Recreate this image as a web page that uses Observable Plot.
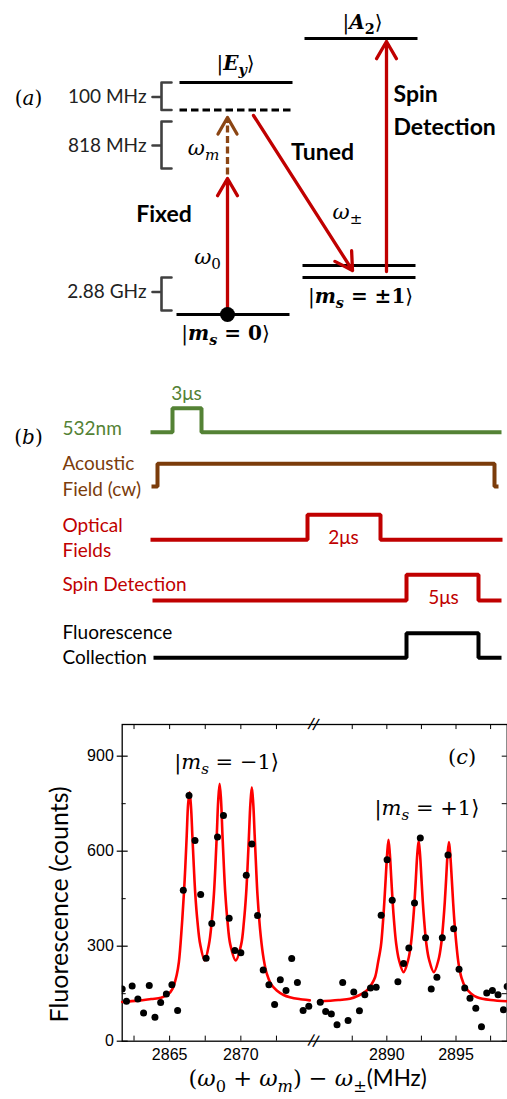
<!DOCTYPE html>
<html><head><meta charset="utf-8">
<script src="https://cdn.jsdelivr.net/npm/d3@7"></script>
<script src="https://cdn.jsdelivr.net/npm/@observablehq/plot@0.6"></script>
<style>
html,body{margin:0;padding:0;background:#fff;}
#chart{position:relative;width:507px;height:1099px;overflow:hidden;background:#fff;}
#chart svg{position:absolute;left:0;max-width:none;}
</style></head><body><div id="chart"></div>
<script>
// ================= DATA =================
// Panel (a): energy-level schematic (diagram units)
const levelState = ["Ey", "virtual", "ms0", "ms+1", "ms-1", "A2"];
const levelLeft  = [179, 179, 176, 302, 302, 304];
const levelRight = [292, 292, 289, 415, 415, 417];
const levelY     = [82, 109.5, 314, 265, 277, 38];
const levelDash  = [false, true, false, false, false, false];

const braceLabel = ["100 MHz", "818 MHz", "2.88 GHz"];
const braceTop   = [82, 121, 277];
const braceMid   = [96.5, 145, 291.5];
const braceBot   = [109.5, 168, 310];

const arrowName  = ["ω0", "Tuned", "Spin Detection"];
const arrowFromX = [227, 253, 386];
const arrowFromY = [314, 115, 271];
const arrowToX   = [227, 352, 386];
const arrowToY   = [178, 270, 41];
const acousticArrow = [227, 174, 227, 117]; // x1, y1, x2, y2
const groundDot = [227, 314];

const stateText = ["|{bi:E}{bis:y}⟩", "|{bi:A}{bs:2}⟩", "|{bi:m}{bis:s}{b: = 0}⟩", "|{bi:m}{bis:s}{b: = ±1}⟩"];
const stateX = [235, 362, 225, 360];
const stateY = [63, 22, 333, 296];
const freqText = ["{i:ω}{is:m}", "{i:ω}{s:0}", "{i:ω}{s:±}"];
const freqX = [203, 207, 347];
const freqY = [148, 257, 212];
const centerBold = ["Fixed", "Tuned"];
const centerBoldX = [163.5, 322];
const centerBoldY = [214, 152];
const sideBold = ["Spin", "Detection"];
const sideBoldX = [393, 393];
const sideBoldY = [94, 127];
const panelText = ["({i:a})", "({i:b})"];
const panelY = [98, 437];

// Panel (b): pulse sequence
const traceName  = ["532nm", "Acoustic", "Optical", "Spin Detection", "Fluorescence"];
const traceColor = ["#548235", "#7B3C0B", "#C00000", "#C00000", "#000000"];
const traceStart = [150, 151, 150, 152, 153];
const traceRise  = [172, 157, 307, 406, 406];
const traceFall  = [201, 494, 380, 478, 478];
const traceEnd   = [501, 498, 502, 501, 501];
const traceLow   = [431.7, 486, 539.3, 600, 657.3];
const traceHigh  = [407.7, 463.3, 514.3, 574.3, 632.7];
const seqLabel   = ["532nm", "Acoustic", "Field (cw)", "Optical", "Fields", "Spin Detection", "Fluorescence", "Collection"];
const seqColor   = ["#548235", "#7B3C0B", "#7B3C0B", "#C00000", "#C00000", "#C00000", "#000000", "#000000"];
const seqY       = [428, 463, 489, 525, 550, 584, 632, 657];
const durText  = ["3μs", "2μs", "5μs"];
const durX     = [186, 343, 443];
const durY     = [393, 537, 597];
const durColor = ["#548235", "#C00000", "#C00000"];

// Panel (c): fluorescence spectrum (MHz, counts)
const dataX = [2861.67, 2861.97, 2862.37, 2862.77, 2863.17, 2863.57, 2863.97, 2864.37, 2864.77, 2865.16, 2865.56, 2865.96, 2866.36, 2866.78, 2867.18, 2867.56, 2867.96, 2868.36, 2868.78, 2869.18, 2869.58, 2870.0, 2870.38, 2870.77, 2871.17, 2871.57, 2871.97, 2872.37, 2872.77, 2873.17, 2873.57, 2873.97, 2874.37, 2874.77,
  2885.19, 2885.58, 2885.99, 2886.40, 2886.81, 2887.20, 2887.61, 2888.02, 2888.41, 2888.82, 2889.23, 2889.59, 2890.02, 2890.39, 2890.80, 2891.21, 2891.59, 2892.00, 2892.42, 2892.80, 2893.21, 2893.62, 2894.01, 2894.42, 2894.83, 2895.22, 2895.63, 2896.01, 2896.43, 2896.84, 2897.22, 2897.63, 2898.04, 2898.43, 2898.70];
const dataY = [165, 126, 174, 133, 89, 176, 76, 122, 149, 178, 97, 477, 776, 634, 463, 262, 372, 645, 713, 388, 286, 279, 524, 623, 397, 225, 178, 116, 194, 160, 261, 185, 97, 110,
  123, 94, 86, 52, 185, 65, 155, 96, 147, 168, 170, 398, 573, 445, 188, 245, 294, 436, 642, 327, 165, 202, 327, 588, 355, 227, 168, 136, 104, 46, 152, 160, 147, 99, 173];

const fitLeftX = [2861.67, 2862.8, 2863.7, 2864.4, 2864.9, 2865.2, 2865.5, 2865.65, 2865.85, 2866.0, 2866.1, 2866.2, 2866.3, 2866.4, 2866.5, 2866.6, 2866.7, 2866.8, 2866.95, 2867.15, 2867.46, 2867.76, 2867.96, 2868.11, 2868.21, 2868.31, 2868.41, 2868.51, 2868.61, 2868.71, 2868.81, 2868.91, 2869.06, 2869.26, 2869.64, 2870.02, 2870.22, 2870.37, 2870.47, 2870.57, 2870.67, 2870.77, 2870.87, 2870.97, 2871.07, 2871.17, 2871.4, 2871.6, 2871.82, 2872.1, 2872.52, 2873.0, 2873.44, 2874.1, 2874.84];
const fitLeftY = [124, 128, 133, 137, 148, 165, 210, 250, 360, 465, 550, 650, 750, 786, 740, 645, 550, 465, 380, 305, 255, 305, 380, 465, 550, 650, 760, 813, 760, 650, 550, 465, 380, 305, 255, 305, 380, 465, 550, 650, 750, 802, 750, 650, 550, 460, 330, 260, 213, 182, 160, 146, 139, 133, 129];
const fitRightX = [2885.03, 2886.5, 2887.34, 2888.0, 2888.55, 2888.9, 2889.15, 2889.37, 2889.57, 2889.72, 2889.82, 2889.92, 2890.02, 2890.12, 2890.22, 2890.32, 2890.42, 2890.52, 2890.67, 2890.87, 2891.21, 2891.55, 2891.75, 2891.90, 2892.00, 2892.10, 2892.20, 2892.30, 2892.40, 2892.50, 2892.60, 2892.70, 2892.85, 2893.05, 2893.40, 2893.74, 2893.94, 2894.09, 2894.19, 2894.29, 2894.39, 2894.49, 2894.59, 2894.69, 2894.79, 2894.89, 2895.04, 2895.19, 2895.4, 2895.67, 2896.1, 2896.52, 2897.5, 2898.7];
const fitRightY = [125, 130, 134, 145, 160, 180, 202, 250, 300, 375, 440, 515, 590, 636, 590, 515, 440, 380, 310, 258, 218, 258, 310, 380, 440, 515, 590, 632, 590, 515, 440, 380, 310, 258, 218, 258, 310, 380, 440, 515, 590, 629, 585, 515, 440, 375, 300, 244, 200, 171, 150, 139, 130, 126];

const xBreakDomain = [2861.67, 2875.1, 2884.7, 2898.7];
const xMajor = [2865, 2870, 2890, 2895];
const xMinor = [2862.5, 2867.5, 2872.5, 2887.5, 2892.5, 2897.5];
const yMajor = [0, 300, 600, 900];
const yMinor = [150, 450, 750];
const peakText = ["|{i:m}{is:s} = −1⟩", "|{i:m}{is:s} = +1⟩", "({i:c})"];
const peakX = [2869.0, 2892.9, 2895.44];
const peakY = [880, 735, 896];

// ================= RENDER =================
const SANS = "Lato, 'Open Sans', sans-serif";
const SERIF = "'DejaVu Serif', serif";
const ARIAL = "'Liberation Sans', Arial, sans-serif";
const RED = "#C00000", BROWN = "#8B4513", GRAY = "#404040";
const SVGNS = "http://www.w3.org/2000/svg";

function richify(root) {
  for (const t of root.querySelectorAll("text")) {
    const s = t.textContent;
    if (!s.includes("{")) continue;
    const fs = parseFloat(getComputedStyle(t).fontSize) || 16;
    t.textContent = "";
    let shift = 0;
    const re = /\{([a-z]+):([^}]*)\}|([^{]+)/g;
    let m;
    while ((m = re.exec(s))) {
      const ts = document.createElementNS(SVGNS, "tspan");
      const flags = m[1] || "";
      ts.textContent = m[1] ? m[2] : m[3];
      if (flags.includes("i")) ts.setAttribute("font-style", "italic");
      if (flags.includes("b")) ts.setAttribute("font-weight", "bold");
      if (flags.includes("u")) ts.setAttribute("font-family", SANS);
      const sub = flags.includes("s");
      if (sub) ts.setAttribute("font-size", (fs * 0.72).toFixed(2) + "px");
      const want = sub ? fs * 0.25 : 0;
      if (want !== shift) { ts.setAttribute("dy", (want - shift).toFixed(2)); shift = want; }
      t.appendChild(ts);
    }
  }
}

const levels = levelState.map((s, i) => ({s, x1: levelLeft[i], x2: levelRight[i], y: levelY[i], dash: levelDash[i]}));
const braceRows = braceLabel.flatMap((b, i) => [
  [171, braceTop[i]], [161, braceTop[i]], [161, braceMid[i]], [152, braceMid[i]],
  [161, braceMid[i]], [161, braceBot[i]], [171, braceBot[i]]
].map(([x, y]) => ({b, x, y})));
const arrows = arrowName.map((n, i) => ({n, x1: arrowFromX[i], y1: arrowFromY[i], x2: arrowToX[i], y2: arrowToY[i]}));
const traceRows = traceName.flatMap((name, i) => [
  [traceStart[i], traceLow[i]], [traceRise[i], traceLow[i]], [traceRise[i], traceHigh[i]],
  [traceFall[i], traceHigh[i]], [traceFall[i], traceLow[i]], [traceEnd[i], traceLow[i]]
].map(([x, y]) => ({name, x, y, color: traceColor[i]})));

const diag = Plot.plot({
  width: 507, height: 680, margin: 0,
  x: {domain: [0, 507], range: [0, 507], axis: null},
  y: {domain: [0, 680], range: [0, 680], axis: null},
  color: {type: "identity"},
  marks: [
    Plot.line(braceRows, {x: "x", y: "y", z: "b", stroke: GRAY, strokeWidth: 2.6, strokeLinejoin: "round", strokeLinecap: "round"}),
    Plot.text(braceLabel, {x: 146, y: (d, i) => braceMid[i], text: d => d, textAnchor: "end", fontFamily: SANS, fontSize: 19, fill: "#222"}),
    Plot.link(levels.filter(d => !d.dash), {x1: "x1", x2: "x2", y1: "y", y2: "y", stroke: "#000", strokeWidth: 3}),
    Plot.link(levels.filter(d => d.dash), {x1: "x1", x2: "x2", y1: "y", y2: "y", stroke: "#000", strokeWidth: 3, strokeDasharray: "7.5,4"}),
    Plot.link([0], {x1: acousticArrow[0], y1: acousticArrow[1], x2: acousticArrow[2], y2: acousticArrow[3] + 2, stroke: BROWN, strokeWidth: 3.3, strokeDasharray: "7,3.5"}),
    Plot.arrow([0], {x1: acousticArrow[0], y1: acousticArrow[1], x2: acousticArrow[2], y2: acousticArrow[3], insetStart: 53, stroke: BROWN, strokeWidth: 3.3, headLength: 9}),
    Plot.arrow(arrows, {x1: "x1", y1: "y1", x2: "x2", y2: "y2", stroke: RED, strokeWidth: 3.3, headLength: 9}),
    Plot.dot([groundDot], {x: d => d[0], y: d => d[1], r: 7.5, fill: "#000"}),
    Plot.text(stateText, {x: (d, i) => stateX[i], y: (d, i) => stateY[i], text: d => d, fontFamily: SERIF, fontSize: 20, fill: "#000"}),
    Plot.text(freqText, {x: (d, i) => freqX[i], y: (d, i) => freqY[i], text: d => d, fontFamily: SERIF, fontSize: 21, fill: "#000"}),
    Plot.text(centerBold, {x: (d, i) => centerBoldX[i], y: (d, i) => centerBoldY[i], text: d => d, textAnchor: "middle", fontFamily: SANS, fontWeight: "bold", fontSize: 23, fill: "#000"}),
    Plot.text(sideBold, {x: (d, i) => sideBoldX[i], y: (d, i) => sideBoldY[i], text: d => d, textAnchor: "start", fontFamily: SANS, fontWeight: "bold", fontSize: 23, fill: "#000"}),
    Plot.text(panelText, {x: 28, y: (d, i) => panelY[i], text: d => d, fontFamily: SERIF, fontSize: 20, fill: "#000"}),
    Plot.line(traceRows, {x: "x", y: "y", z: "name", stroke: "color", strokeWidth: 4, strokeLinejoin: "miter", strokeLinecap: "butt"}),
    Plot.text(seqLabel, {x: 62, y: (d, i) => seqY[i], text: d => d, fill: (d, i) => seqColor[i], textAnchor: "start", fontFamily: SANS, fontSize: 19}),
    Plot.text(durText, {x: (d, i) => durX[i], y: (d, i) => durY[i], text: d => d, fill: (d, i) => durColor[i], fontFamily: SANS, fontSize: 19})
  ]
});

const pts = dataX.map((x, i) => ({x, y: dataY[i]}));
const fitL = fitLeftX.map((x, i) => ({x, y: fitLeftY[i]}));
const fitR = fitRightX.map((x, i) => ({x, y: fitRightY[i]}));
const xLo = xBreakDomain[0], xHi = xBreakDomain[3];
const xTicks = xMajor.concat(xMinor);

const spec = Plot.plot({
  width: 507, height: 409,
  marginTop: 34, marginBottom: 58.3, marginLeft: 121.7, marginRight: 0.3,
  style: {fontFamily: ARIAL, fontSize: "16px", background: "transparent"},
  x: {type: "linear", domain: xBreakDomain, range: [121.7, 313, 313, 506.7], label: null},
  y: {domain: [0, 1000], label: null},
  marks: [
    Plot.frame({stroke: "#000", strokeWidth: 1.3}),
    Plot.ruleX(xTicks, {x: d => d, y1: 0, y2: 16, stroke: "#000", strokeWidth: 1}),
    Plot.ruleX(xTicks, {x: d => d, y1: 1000, y2: 984, stroke: "#000", strokeWidth: 1}),
    Plot.ruleY(yMajor, {y: d => d, x1: xLo - 0.35, x2: xLo + 0.42, stroke: "#000", strokeWidth: 1.2}),
    Plot.ruleY(yMinor, {y: d => d, x1: xLo, x2: xLo + 0.28, stroke: "#000", strokeWidth: 1}),
    Plot.ruleY(yMajor.concat(yMinor), {y: d => d, x1: xHi - 0.36, x2: xHi, stroke: "#000", strokeWidth: 1}),
    Plot.axisX({ticks: xMajor, tickSize: 0, tickPadding: 7, tickFormat: d => String(d), fontSize: 16, fontFamily: ARIAL}),
    Plot.axisY({ticks: yMajor, tickSize: 0, tickPadding: 8.4, tickFormat: d => String(d), fontSize: 16, fontFamily: ARIAL}),
    Plot.text(["//", "//"], {x: xBreakDomain[1], y: (d, i) => i ? 0 : 1000, text: d => d, rotate: 14, fontSize: 17, fontFamily: ARIAL, fill: "#000"}),
    Plot.line(fitL, {x: "x", y: "y", stroke: "#FF0000", strokeWidth: 2.6, curve: "catmull-rom"}),
    Plot.line(fitR, {x: "x", y: "y", stroke: "#FF0000", strokeWidth: 2.6, curve: "catmull-rom"}),
    Plot.dot(pts, {x: "x", y: "y", r: 3.5, fill: "#000", clip: true}),
    Plot.text(peakText, {x: (d, i) => peakX[i], y: (d, i) => peakY[i], text: d => d, fontFamily: SERIF, fontSize: 21, fill: "#000"}),
    Plot.text(["({i:ω}{s:0} + {i:ω}{is:m}) − {i:ω}{s:±}{u:(MHz)}"], {frameAnchor: "bottom", textAnchor: "middle", dx: -7, dy: 45, text: d => d, fontFamily: SERIF, fontSize: 22.5, fill: "#000"}),
    Plot.text(["Fluorescence (counts)"], {frameAnchor: "left", textAnchor: "middle", dx: -62, dy: 21.6, rotate: -90, text: d => d, fontFamily: SANS, fontSize: 25, fill: "#000"})
  ]
});

const chart = document.getElementById("chart");
diag.style.top = "0px";
spec.style.top = "690px";
chart.appendChild(diag);
chart.appendChild(spec);
richify(diag);
richify(spec);
</script></body></html>
